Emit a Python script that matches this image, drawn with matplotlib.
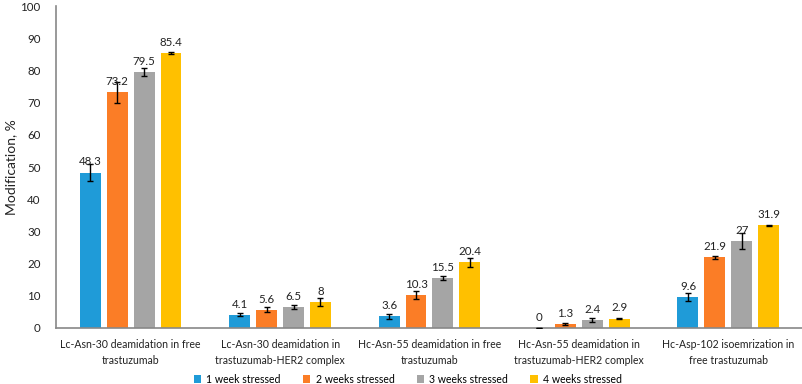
import matplotlib.pyplot as plt
import numpy as np

categories = [
    "Lc-Asn-30 deamidation in free\ntrastuzumab",
    "Lc-Asn-30 deamidation in\ntrastuzumab-HER2 complex",
    "Hc-Asn-55 deamidation in free\ntrastuzumab",
    "Hc-Asn-55 deamidation in\ntrastuzumab-HER2 complex",
    "Hc-Asp-102 isoemrization in\nfree trastuzumab",
]
series = ["1 week stressed", "2 weeks stressed", "3 weeks stressed", "4 weeks stressed"]
week1 = [48.3, 4.1, 3.6, 0, 9.6]
week2 = [73.2, 5.6, 10.3, 1.3, 21.9]
week3 = [79.5, 6.5, 15.5, 2.4, 27]
week4 = [85.4, 8, 20.4, 2.9, 31.9]
err1 = [2.6, 0.4, 0.7, 0, 1.2]
err2 = [3.3, 0.8, 1.2, 0.3, 0.4]
err3 = [1.2, 0.7, 0.5, 0.6, 2.5]
err4 = [0.4, 1.2, 1.4, 0.2, 0.1]
labels = [
    ["48.3", "4.1", "3.6", "0", "9.6"],
    ["73.2", "5.6", "10.3", "1.3", "21.9"],
    ["79.5", "6.5", "15.5", "2.4", "27"],
    ["85.4", "8", "20.4", "2.9", "31.9"],
]

colors = ["#1f9bd8", "#fb7d26", "#a5a5a5", "#ffc000"]
plt.rcParams["font.family"] = ["Lato", "DejaVu Sans"]
TXT = "#222222"
FS = 7.6      # word labels (Calibri-ish width)
FS_NUM = 8.3  # numbers

fig = plt.figure(figsize=(8.03, 3.84), dpi=100)
ax = fig.add_axes([0.0697, 0.146, 0.9303, 0.838])

x = np.arange(len(categories))
width = 0.14
step = 0.18
values = [week1, week2, week3, week4]
errs = [err1, err2, err3, err4]
for i, (vals, er) in enumerate(zip(values, errs)):
    pos = x + (i - 1.5) * step
    ax.bar(pos, vals, width, color=colors[i], label=series[i], zorder=2)
    ax.errorbar(pos, vals, yerr=er, fmt="none", ecolor="black", elinewidth=1,
                capsize=2.5, capthick=1, zorder=3)
    # Excel-style data labels sit just above the bar, not above the error bar
    for p, v, t in zip(pos, vals, labels[i]):
        ax.text(p, v + 1.6, t, ha="center", va="bottom", fontsize=FS_NUM, color=TXT, zorder=4)

ax.set_xlim(-0.5, len(categories) - 0.5)
ax.set_ylim(0, 100)
ax.set_yticks(range(0, 101, 10))
ax.set_xticks(x)
ax.set_xticklabels(categories, fontsize=FS, color=TXT, linespacing=1.5)
ax.tick_params(axis="x", length=0, pad=8)
ax.tick_params(axis="y", length=0, labelsize=FS_NUM, labelcolor=TXT, pad=11)
ax.set_ylabel("Modification, %", fontsize=10, color=TXT)
ax.yaxis.set_label_coords(-0.052, 0.5)

for s in ["top", "right"]:
    ax.spines[s].set_visible(False)
for s in ["left", "bottom"]:
    ax.spines[s].set_color("#888888")
    ax.spines[s].set_linewidth(1.2)

fig.legend(loc="lower center", bbox_to_anchor=(0.508, -0.024), ncol=4, frameon=False,
           fontsize=FS, handlelength=0.7, handleheight=0.7, handletextpad=0.5,
           columnspacing=2.1, borderpad=0.3)

fig.savefig("out.png", dpi=100)
